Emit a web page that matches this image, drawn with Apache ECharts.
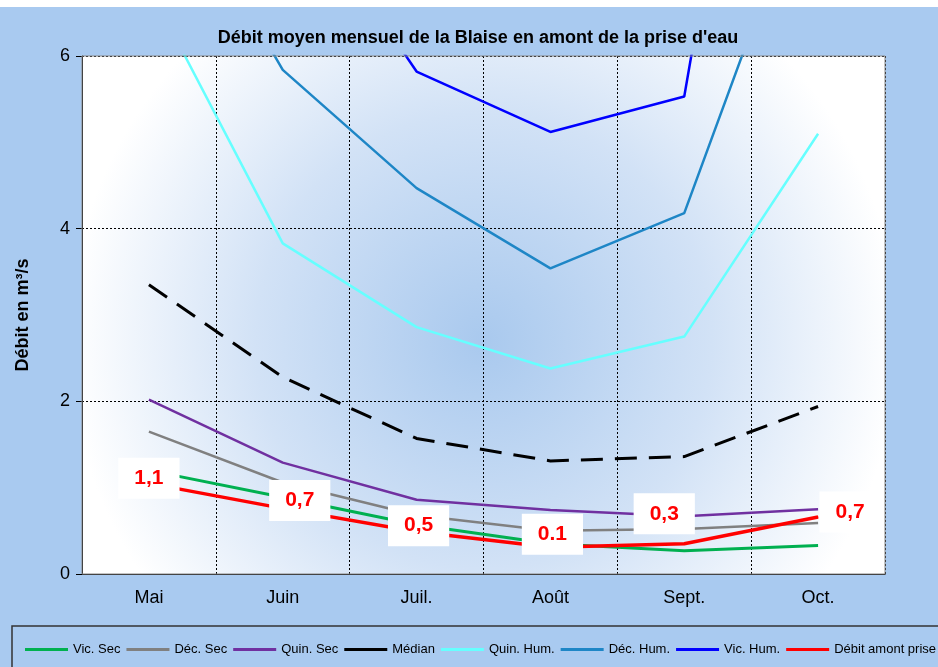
<!DOCTYPE html>
<html>
<head>
<meta charset="utf-8">
<script src="https://cdn.jsdelivr.net/npm/echarts@6/dist/echarts.min.js"></script>
<style>
  html, body { margin: 0; padding: 0; background: #a9caf0; }
  #chart { width: 938px; height: 667px; }
</style>
</head>
<body>
<div id="chart"></div>
<script>
// mois
const months = ['Mai', 'Juin', 'Juil.', 'Août', 'Sept.', 'Oct.'];

// débits en m3/s
const vicSec = [1.2, 0.89, 0.57, 0.35, 0.27, 0.33];
const decSec = [1.65, 1.06, 0.68, 0.5, 0.52, 0.59];
const quinSec = [2.02, 1.29, 0.86, 0.74, 0.67, 0.75];
const median = [3.35, 2.28, 1.57, 1.31, 1.36, 1.94];
const quinHum = [6.8, 3.83, 2.86, 2.38, 2.75, 5.1];
const decHum = [8.5, 5.84, 4.47, 3.54, 4.18, 8.4];
const vicHum = [12, 8.1, 5.82, 5.12, 5.53, 14.5];
const debitAmont = [1.05, 0.76, 0.49, 0.31, 0.35, 0.66];
const debitLabels = ['1,1', '0,7', '0,5', '0.1', '0,3', '0,7'];
const yTicks = [0, 2, 4, 6];

const labelOffsets = [[0, -5], [17, -8], [2, -6], [2, -13], [-20, -30], [32, -5]];

const chart = echarts.init(document.getElementById('chart'));

function serie(name, data, color, width, type) {
  return {
    name: name,
    type: 'line',
    data: data,
    symbol: 'none',
    clip: true,
    lineStyle: { color: color, width: width, type: type || 'solid' },
    itemStyle: { color: color }
  };
}

const redSerie = serie('Débit amont prise d\'eau', debitAmont.map((v, i) => ({
  value: v,
  label: { offset: labelOffsets[i] }
})), '#ff0000', 3.5);
redSerie.symbol = 'circle';
redSerie.symbolSize = 1;
redSerie.showSymbol = true;
redSerie.z = 10;
redSerie.label = {
  show: true,
  position: 'inside',
  formatter: p => debitLabels[p.dataIndex],
  color: '#ff0000',
  fontFamily: 'Liberation Sans',
  fontWeight: 'bold',
  fontSize: 21,
  backgroundColor: '#ffffff',
  padding: [11, 16, 9, 16]
};

chart.setOption({
  backgroundColor: '#a9caf0',
  animation: false,
  textStyle: { fontFamily: 'Liberation Sans' },
  title: {
    text: 'Débit moyen mensuel de la Blaise en amont de la prise d\'eau',
    left: 473,
    top: 24,
    textAlign: 'center',
    textStyle: { fontSize: 18, fontWeight: 'bold', color: '#000', fontFamily: 'Liberation Sans' }
  },
  graphic: [
    { type: 'rect', shape: { x: 0, y: 0, width: 938, height: 7 }, style: { fill: '#ffffff' }, z: -1 },
    { type: 'rect', shape: { x: 12, y: 626, width: 940, height: 60 }, style: { fill: 'none', stroke: '#333', lineWidth: 1.5 } },
    { type: 'rect', shape: { x: 82, y: 56, width: 803, height: 518 }, style: { fill: 'none', stroke: '#888', lineWidth: 1 }, z: 5 }
  ],
  grid: {
    left: 82, right: 53, top: 56, bottom: 93,
    show: true,
    borderWidth: 0,
    backgroundColor: {
      type: 'radial', x: 0.5, y: 0.55, r: 0.8,
      colorStops: [
        { offset: 0, color: '#a9c9ee' },
        { offset: 0.55, color: '#d2e2f6' },
        { offset: 1, color: '#ffffff' }
      ]
    }
  },
  legend: {
    left: 20,
    top: 638,
    width: 1400,
    itemWidth: 43,
    itemHeight: 3,
    itemGap: 6,
    icon: 'rect',
    textStyle: { fontSize: 13, color: '#000', fontFamily: 'Liberation Sans' }
  },
  xAxis: {
    type: 'category',
    data: months,
    boundaryGap: true,
    axisLine: { lineStyle: { color: '#000', width: 1 } },
    axisTick: { length: 6, lineStyle: { color: '#000' } },
    axisLabel: { fontSize: 18, color: '#000', margin: 15 },
    splitLine: { show: true, lineStyle: { color: '#000', type: [2, 2], width: 1 } }
  },
  yAxis: {
    type: 'value',
    min: yTicks[0],
    max: yTicks[yTicks.length - 1],
    interval: 2,
    name: 'Débit en m³/s',
    nameLocation: 'middle',
    nameGap: 50,
    nameTextStyle: { fontSize: 18, fontWeight: 'bold', color: '#000' },
    axisLine: { show: true, lineStyle: { color: '#000', width: 1 } },
    axisTick: { show: true, length: 6, lineStyle: { color: '#000' } },
    axisLabel: { fontSize: 18, color: '#000', margin: 12 },
    splitLine: { show: true, lineStyle: { color: '#000', type: [2, 2], width: 1 } }
  },
  series: [
    serie('Vic. Sec', vicSec, '#00b050', 3),
    serie('Déc. Sec', decSec, '#808080', 2.5),
    serie('Quin. Sec', quinSec, '#7030a0', 2.5),
    serie('Médian', median, '#000000', 3, [22, 12]),
    serie('Quin. Hum.', quinHum, '#66ffff', 2.5),
    serie('Déc. Hum.', decHum, '#1e86c6', 2.5),
    serie('Vic. Hum.', vicHum, '#0000ff', 2.5),
    redSerie
  ]
});
</script>
</body>
</html>
